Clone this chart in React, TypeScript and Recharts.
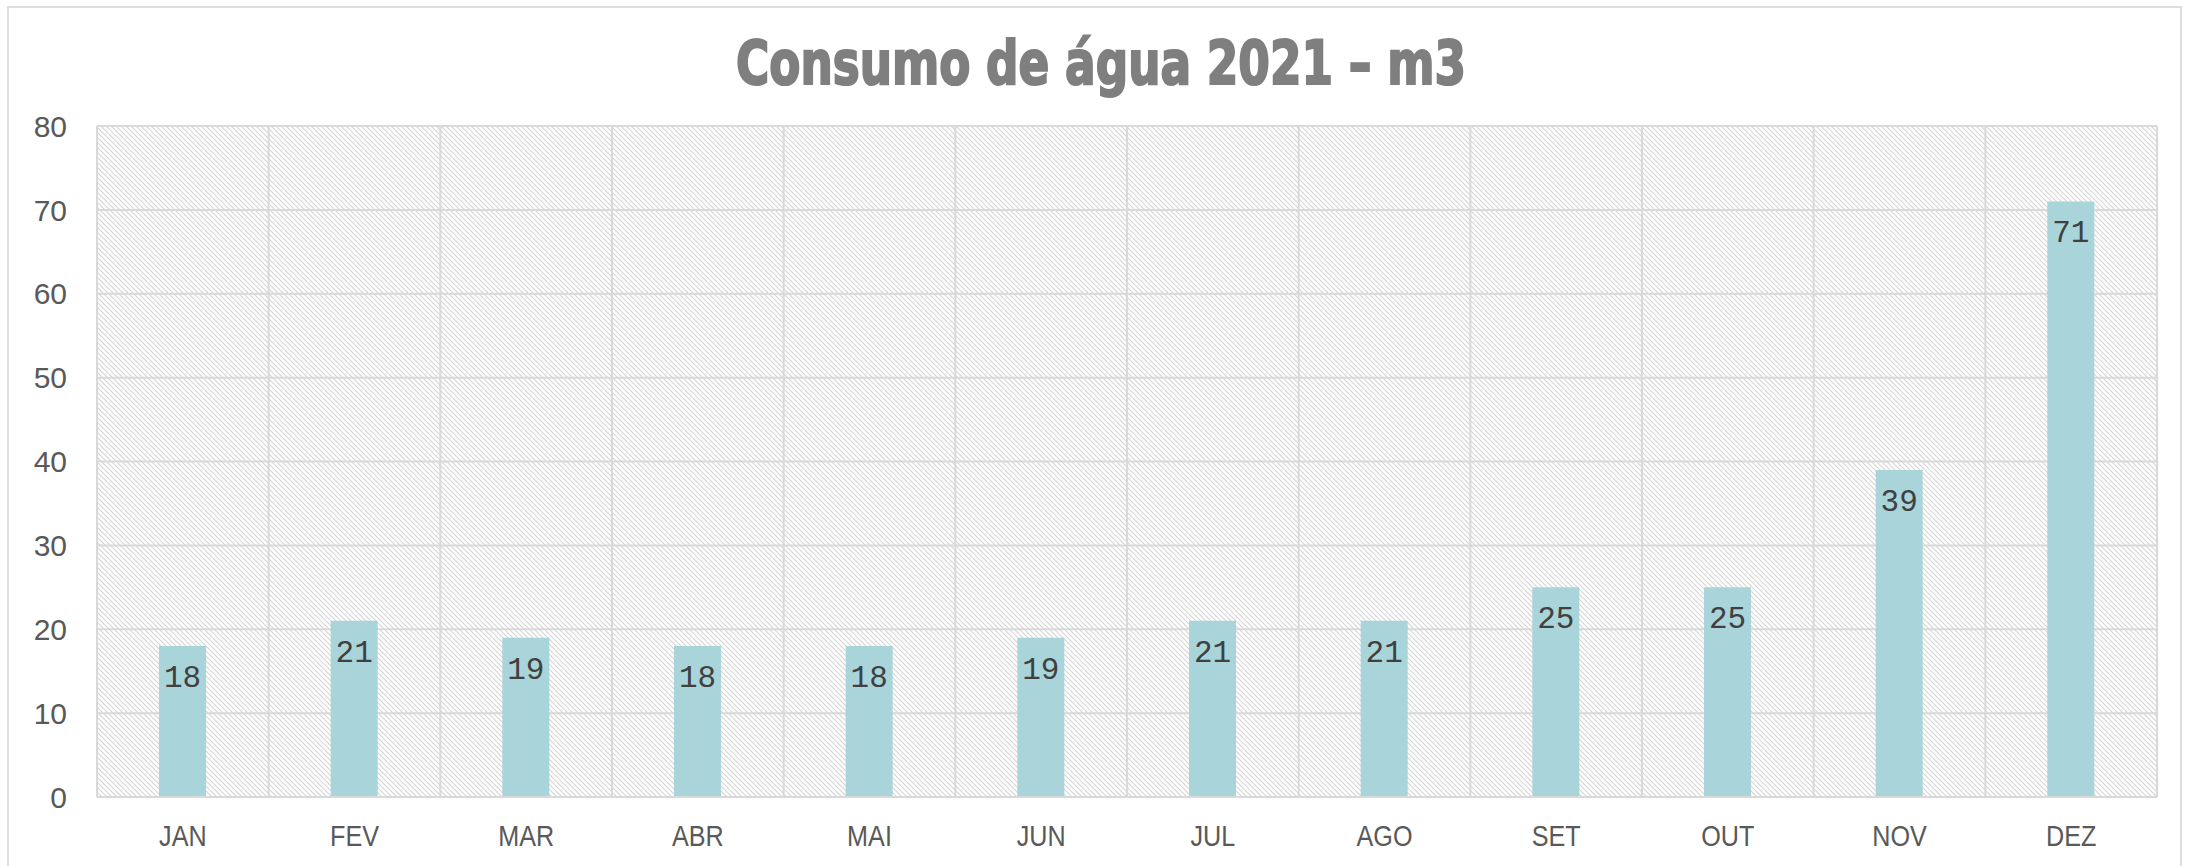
import { BarChart, Bar, XAxis, YAxis, CartesianGrid, LabelList } from 'recharts'

const months = ['JAN', 'FEV', 'MAR', 'ABR', 'MAI', 'JUN', 'JUL', 'AGO', 'SET', 'OUT', 'NOV', 'DEZ']
const consumo = [18, 21, 19, 18, 18, 19, 21, 21, 25, 25, 39, 71]
const yTicks = [0, 10, 20, 30, 40, 50, 60, 70, 80]
const title = 'Consumo de água 2021 – m3'

const data = months.map((m, i) => ({ mes: m, valor: consumo[i] }))

const W = 2186
const H = 866
const grid = '#d9d9d9'

// narrow month labels (no condensed font available, so squeeze horizontally)
const MonthTick = ({ x, y, payload }: any) => (
  <g transform={`translate(${x},${y}) scale(0.84,1)`}>
    <text
      x={0}
      y={0}
      dy={21}
      textAnchor="middle"
      fill="#595959"
      fontSize={30}
      fontFamily="Liberation Sans, sans-serif"
    >
      {payload.value}
    </text>
  </g>
)

export default function App() {
  return (
    <div style={{ position: 'fixed', left: 0, top: 0, width: W, height: H, background: '#fff', overflow: 'hidden' }}>
      <div
        style={{
          position: 'absolute',
          left: 7,
          top: 6,
          width: 2175,
          height: 900,
          border: '2px solid #dedede',
          boxSizing: 'border-box'
        }}
      />
      <svg width={W} height={H} style={{ position: 'absolute', left: 0, top: 0 }}>
        <text
          x={1101}
          y={84}
          textAnchor="middle"
          fontFamily="DejaVu Sans"
          fontWeight="bold"
          fontSize={60}
          fill="#7f7f7f"
          stroke="#7f7f7f"
          strokeWidth={2.2}
          textLength={730}
          lengthAdjust="spacingAndGlyphs"
        >
          {title}
        </text>
      </svg>
      <div style={{ position: 'absolute', left: 0, top: 0 }}>
        <BarChart width={W} height={H} data={data} margin={{ top: 126, right: 29, bottom: 0, left: 0 }}>
          <defs>
            <pattern id="hatch" width="5" height="5" patternUnits="userSpaceOnUse">
              <path d="M-1,-1 L6,6 M-1,4 L1,6 M4,-1 L6,1" stroke="#d4d4d4" strokeWidth="1.1" />
            </pattern>
          </defs>
          <CartesianGrid
            fill="url(#hatch)"
            fillOpacity={1}
            stroke={grid}
            strokeWidth={2}
            verticalCoordinatesGenerator={({ offset }: any) =>
              months.map((_, i) => offset.left + (i * offset.width) / months.length).concat(offset.left + offset.width)
            }
          />
          <XAxis
            dataKey="mes"
            height={69}
            interval={0}
            tickSize={0}
            tickMargin={28}
            axisLine={{ stroke: grid, strokeWidth: 2 }}
            tickLine={false}
            tick={<MonthTick />}
          />
          <YAxis
            width={97}
            domain={[0, 80]}
            ticks={yTicks}
            interval={0}
            tickSize={0}
            tickMargin={30}
            axisLine={false}
            tickLine={false}
            tick={{ fill: '#595959', fontSize: 30, fontFamily: 'Liberation Sans, sans-serif' }}
          />
          <Bar dataKey="valor" fill="#a9d4da" barSize={47} isAnimationActive={false}>
            <LabelList
              dataKey="valor"
              position="insideTop"
              offset={19}
              fill="#404040"
              fontSize={31}
              fontFamily="Liberation Mono, monospace"
            />
          </Bar>
        </BarChart>
      </div>
    </div>
  )
}
